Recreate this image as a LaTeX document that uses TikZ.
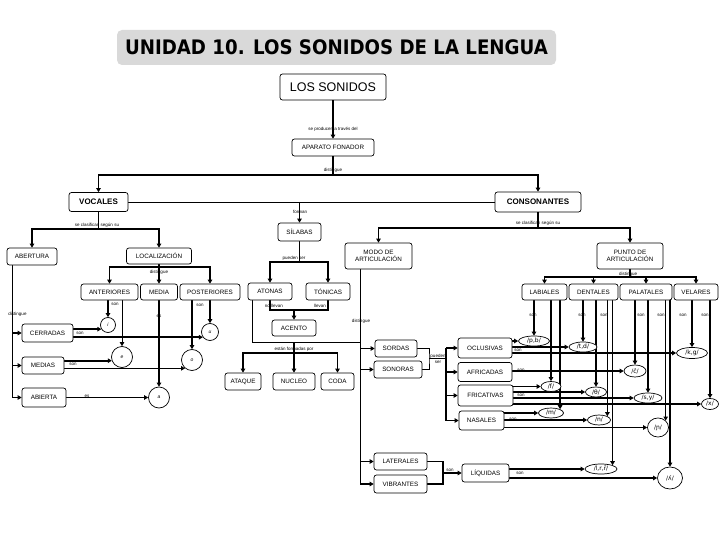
\documentclass[tikz,border=0pt]{standalone}
\usepackage{fontspec}
\usepackage{graphicx}
\setmainfont{Liberation Sans}
\newfontfamily\titlefont{DejaVu Sans}
\newfontfamily\ipafont{DejaVu Sans}
\usetikzlibrary{arrows.meta,shapes.geometric,calc}
\pgfdeclarelayer{bg}
\pgfsetlayers{bg,main}
\begin{document}
\begin{tikzpicture}[x=1pt,y=-1pt,
  box/.style={draw,line width=0.7pt,rounded corners=2.5pt,fill=white,inner sep=0pt,align=center,font=\fontsize{6.3}{7.2}\selectfont},
  bbox/.style={box,font=\fontsize{8}{9}\selectfont\bfseries},
  ph/.style={draw,line width=0.7pt,ellipse,fill=white,inner sep=0pt,font=\ipafont\fontsize{6}{7}\selectfont},
  vw/.style={draw,line width=0.7pt,circle,fill=white,inner sep=0pt,font=\fontsize{5}{6}\selectfont\itshape},
  lbl/.style={inner sep=0pt,align=center,font=\fontsize{4.5}{5}\selectfont},
  thk/.style={line width=1.6pt},
  thn/.style={line width=0.7pt},
  arr/.style={-{Triangle[length=4pt,width=4.5pt]}},
]
\useasboundingbox (0,0) rectangle (720,540);
% ---------- boxes ----------
\node[fill=gray!30,rounded corners=5pt,minimum width=439pt,minimum height=35pt,inner sep=0pt] (title) at (336.5,47.5)
  {\titlefont\bfseries\fontsize{20}{22}\selectfont\scalebox{0.91}[1]{UNIDAD 10. LOS SONIDOS DE LA LENGUA}};
\node[box,font=\fontsize{12.5}{14}\selectfont,minimum width=106pt,minimum height=26pt] (son) at (333,87) {LOS SONIDOS};
\node[box,minimum width=82pt,minimum height=17pt] (apa) at (333,147.5) {APARATO FONADOR};
\node[bbox,minimum width=59pt,minimum height=19pt] (voc) at (98.5,202) {VOCALES};
\node[bbox,minimum width=86pt,minimum height=20pt] (cons) at (538,202) {CONSONANTES};
\node[box,minimum width=43pt,minimum height=18pt] (sil) at (299.5,232) {SÍLABAS};
\node[box,minimum width=50pt,minimum height=17pt] (abe) at (32,256.5) {ABERTURA};
\node[box,minimum width=65pt,minimum height=16pt] (loc) at (159,256) {LOCALIZACIÓN};
\node[box,minimum width=57pt,minimum height=16pt] (ant) at (109.5,292) {ANTERIORES};
\node[box,minimum width=37pt,minimum height=16pt] (med) at (159,292) {MEDIA};
\node[box,minimum width=60pt,minimum height=16pt] (pos) at (210,292) {POSTERIORES};
\node[box,minimum width=44pt,minimum height=17pt] (ato) at (270,291.5) {ATONAS};
\node[box,minimum width=44pt,minimum height=17pt] (ton) at (328,291.5) {TÓNICAS};
\node[box,minimum width=44pt,minimum height=16pt] (ace) at (294,328) {ACENTO};
\node[box,minimum width=67pt,minimum height=26pt] (modo) at (378.5,256) {MODO DE\\ARTICULACIÓN};
\node[box,minimum width=66pt,minimum height=26pt] (punto) at (630,256) {PUNTO DE\\ARTICULACIÓN};
\node[box,minimum width=45pt,minimum height=16pt] (lab) at (544.5,292) {LABIALES};
\node[box,minimum width=49pt,minimum height=16pt] (den) at (593.5,292) {DENTALES};
\node[box,minimum width=52pt,minimum height=16pt] (pal) at (646,292) {PALATALES};
\node[box,minimum width=44pt,minimum height=16pt] (vel) at (696,292) {VELARES};
\node[box,minimum width=51pt,minimum height=18pt] (cer) at (47.5,333) {CERRADAS};
\node[box,minimum width=42pt,minimum height=17pt] (meds) at (43,365.5) {MEDIAS};
\node[box,minimum width=44pt,minimum height=19pt] (abi) at (44,397.5) {ABIERTA};
\node[box,minimum width=36pt,minimum height=17pt] (ata) at (243,381.5) {ATAQUE};
\node[box,minimum width=42pt,minimum height=17pt] (nuc) at (294,381.5) {NUCLEO};
\node[box,minimum width=33pt,minimum height=17pt] (coda) at (337.5,381.5) {CODA};
\node[box,minimum width=42pt,minimum height=17pt] (sor) at (396,348.5) {SORDAS};
\node[box,minimum width=48pt,minimum height=17pt] (sno) at (398,369.5) {SONORAS};
\node[box,minimum width=54pt,minimum height=20pt] (ocl) at (485,348) {OCLUSIVAS};
\node[box,minimum width=54pt,minimum height=19pt] (afr) at (485,372) {AFRICADAS};
\node[box,minimum width=55pt,minimum height=21pt] (fri) at (485.5,395.5) {FRICATIVAS};
\node[box,minimum width=45pt,minimum height=19pt] (nas) at (481.5,420.5) {NASALES};
\node[box,minimum width=53pt,minimum height=17pt] (lat) at (400.5,461.5) {LATERALES};
\node[box,minimum width=53pt,minimum height=18pt] (vib) at (400.5,484) {VIBRANTES};
\node[box,minimum width=47pt,minimum height=18pt] (liq) at (485.5,473) {LÍQUIDAS};
% ---------- phonemes ----------
\node[ph,minimum width=31pt,minimum height=10pt] (pb) at (534,341) {/p,b/};
\node[ph,minimum width=28pt,minimum height=10pt] (td) at (583,347) {/t,d/};
\node[ph,minimum width=31pt,minimum height=11pt] (kg) at (692,353) {/k,g/};
\node[ph,minimum width=22pt,minimum height=12pt] (ch) at (635,371) {/ĉ/};
\node[ph,minimum width=20pt,minimum height=10pt] (f) at (551,386.5) {/f/};
\node[ph,minimum width=21pt,minimum height=10pt] (th) at (596,392) {/θ/};
\node[ph,minimum width=28pt,minimum height=10pt] (sy) at (648,398) {/s,y/};
\node[ph,minimum width=17pt,minimum height=11pt] (xx) at (710,404) {/x/};
\node[ph,minimum width=25pt,minimum height=10pt] (m) at (551,413) {/m/};
\node[ph,minimum width=23pt,minimum height=10pt] (n) at (599,420) {/n/};
\node[ph,minimum width=21pt,minimum height=19pt] (ny) at (658,427.5) {/ɲ/};
\node[ph,minimum width=32pt,minimum height=10pt] (lrr) at (601,469) {/l,r,r̄/};
\node[ph,minimum width=25pt,minimum height=22pt] (ll) at (670,478) {/ʎ/};
\node[vw,minimum size=15pt] (vi) at (108,325) {i};
\node[vw,minimum size=17pt] (vu) at (210,332) {u};
\node[vw,minimum size=21pt] (ve) at (122,357) {e};
\node[vw,minimum size=21pt] (vo) at (192,360) {o};
\node[vw,minimum size=21pt] (va) at (159,397.5) {a};
% ---------- coordinates ----------
\coordinate (b1) at (333,175);
\coordinate (b2) at (98.5,229);
\coordinate (b3) at (538,228);
\coordinate (b4) at (159,267);
\coordinate (b5) at (630,277);
\coordinate (b6) at (299.5,262);
\coordinate (b7) at (294,310);
\coordinate (c1) at (252,342);
\coordinate (b8) at (294,342);
\coordinate (b9) at (294,353);
\coordinate (mbot) at (360,484);
\coordinate (sq) at (429,358.5);
\coordinate (sbar) at (446,358.5);
\coordinate (lq) at (443,473);
\coordinate (av) at (12,397.5);
% ---------- connectors ----------
\begin{pgfonlayer}{bg}
\fill[white] (0,0) rectangle (720,540);
\draw[thk,arr] (son) -- (apa);
\draw[thk] (apa) -- (b1);
\draw[thk,arr] (b1) -| (voc);
\draw[thk,arr] (b1) -| (cons);
\draw[thn] (voc.east) -- (cons.west);
\draw[thk,arr] (sil.north |- voc.east) -- (sil);
\draw[thk] (voc) -- (b2);
\draw[thk,arr] (b2) -| (abe);
\draw[thk,arr] (b2) -| (loc);
\draw[thk] (cons) -- (b3);
\draw[thk,arr] (b3) -| (modo);
\draw[thk,arr] (b3) -| (punto);
\draw[thk] (loc) -- (b4);
\draw[thk,arr] (b4) -| (ant);
\draw[thk,arr] (b4) -- (med);
\draw[thk,arr] (b4) -| (pos);
\draw[thk] (punto) -- (b5);
\draw[thk,arr] (b5) -| (lab);
\draw[thk,arr] (b5) -| (den);
\draw[thk,arr] (b5) -| (pal);
\draw[thk,arr] (b5) -| (vel);
\draw[thk] (sil) -- (b6);
\draw[thk,arr] (b6) -| (ato);
\draw[thk,arr] (b6) -| (ton);
\draw[thk] (ato) |- (b7) -| (ton);
\draw[thk,arr] (b7) -- (ace);
\draw[thn] (ato.south -| c1) -- (c1) -- (c1 -| mbot);
\draw[thk] (b8) -- (b9);
\draw[thk,arr] (b9) -| (ata);
\draw[thk,arr] (b9) -- (nuc);
\draw[thk,arr] (b9) -| (coda);
\draw[thn] (modo.south -| mbot) -- (mbot);
\draw[thk,arr] (mbot) -- (vib);
\draw[thk,arr] (mbot |- sor) -- (sor);
\draw[thk,arr] (mbot |- sno) -- (sno);
\draw[thk,arr] (mbot |- lat) -- (lat);
\draw[thn] (sor.east) -| (sq) |- (sno.east);
\draw[thn] (sq) -- (sbar);
\draw[thk] (sbar |- ocl) -- (sbar |- nas);
\draw[thk,arr] (sbar |- ocl) -- (ocl);
\draw[thk,arr] (sbar |- afr) -- (afr);
\draw[thk,arr] (sbar |- fri) -- (fri);
\draw[thk,arr] (sbar |- nas) -- (nas);
\draw[thk] (lat.east) -| (lq) |- (vib.east);
\draw[thk,arr] (lq) -- (liq);
% vowels
\draw[thn] (abe.south -| av) -- (av);
\draw[thk,arr] (av |- cer) -- (cer);
\draw[thk,arr] (av |- meds) -- (meds);
\draw[thk,arr] (av) -- (abi);
\draw[thk,arr] (cer.east |- vi.212) -- (vi.212);
\draw[thk,arr] (cer.east |- vu.216) -- (vu.216);
\draw[thk,arr] (meds.east |- ve.200) -- (ve.200);
\draw[thk,arr] (meds.east |- vo.230) -- (vo.230);
\draw[thk,arr] (abi) -- (va);
\draw[thk,arr] (ant.south -| vi) -- (vi);
\draw[thn,arr] (ant.south -| ve) -- (ve);
\draw[thk,arr] (med) -- (va);
\draw[thk,arr] (pos.south -| vu) -- (vu);
\draw[thk,arr] (pos.south -| vo) -- (vo);
% consonants: place
\draw[thk,arr] (lab.south -| pb) -- (pb);
\draw[thk,arr] (lab.south -| f) -- (f);
\draw[thk,arr] (lab.south -| m.north east) -- (m.north east);
\draw[thk,arr] (den.south -| td) -- (td);
\draw[thk,arr] (den.south -| th) -- (th);
\draw[thk,arr] (den.south -| n.north east) -- (n.north east);
\draw[thk,arr] (den.south -| lrr.north east) -- (lrr.north east);
\draw[thk,arr] (pal.south -| ch) -- (ch);
\draw[thk,arr] (pal.south -| sy) -- (sy);
\draw[thk,arr] (pal.south -| ny.north east) -- (ny.north east);
\draw[thk,arr] (pal.south -| ll) -- (ll);
\draw[thk,arr] (vel.south -| kg) -- (kg);
\draw[thk,arr] (vel.south -| xx) -- (xx);
% consonants: manner
\draw[thk,arr] (ocl.east |- pb) -- (pb);
\draw[thk,arr] (ocl.east |- td) -- (td);
\draw[thk,arr] (ocl.east |- kg) -- (kg);
\draw[thk,arr] (afr.east |- ch) -- (ch);
\draw[thk,arr] (fri.east |- f) -- (f);
\draw[thk,arr] (fri.east |- th) -- (th);
\draw[thk,arr] (fri.east |- sy) -- (sy);
\draw[thk,arr] (fri.east |- xx) -- (xx);
\draw[thk,arr] (nas.east |- m) -- (m);
\draw[thk,arr] (nas.east |- n) -- (n);
\draw[thk,arr] (nas.east |- ny) -- (ny);
\draw[thk,arr] (liq.east |- lrr) -- (lrr);
\draw[thk,arr] (liq.east |- ll) -- (ll);
\end{pgfonlayer}
% ---------- labels ----------
\node[lbl] (l1) at (333,129) {se producen a través del};
\node[lbl] (l2) at (333,170) {distingue};
\node[lbl] (l3) at (300,212) {forman};
\node[lbl] (l4) at (97,225) {se clasifican según su};
\node[lbl] (l5) at (538,223.5) {se clasifican según su};
\node[lbl] (l6) at (159,272) {distingue};
\node[lbl] (l7) at (294,258) {pueden ser};
\node[lbl] (l8) at (628,274) {distingue};
\node[lbl] (l9) at (274,306) {no llevan};
\node[lbl] (l10) at (320,306) {llevan};
\node[lbl] (l11) at (294,349.5) {están formadas por};
\node[lbl] (l12) at (361,321) {distingue};
\node[lbl] (l13) at (438,358.5) {pueden\\[1pt]ser};
\node[lbl] (l14) at (450,470) {son};
\node[lbl] (l15) at (520,473) {son};
\node[lbl] (l16) at (17.5,314) {distingue};
\node[lbl] (l17) at (80,333) {son};
\node[lbl] (l18) at (73,364) {son};
\node[lbl] (l19) at (87,396) {es};
\node[lbl] (l20) at (115,304) {son};
\node[lbl] (l21) at (159,316) {es};
\node[lbl] (l22) at (200,305) {son};
\node[lbl] (l23) at (533,315) {son};
\node[lbl] (l24) at (582,315) {son};
\node[lbl] (l25) at (604,315) {son};
\node[lbl] (l26) at (641,315) {son};
\node[lbl] (l27) at (661,315) {son};
\node[lbl] (l28) at (683,315) {son};
\node[lbl] (l29) at (705,315) {son};
\node[lbl] (l30) at (518,350.5) {son};
\node[lbl] (l31) at (521,370) {son};
\node[lbl] (l32) at (521,395.5) {son};
\node[lbl] (l33) at (513,419) {son};
\end{tikzpicture}
\end{document}
